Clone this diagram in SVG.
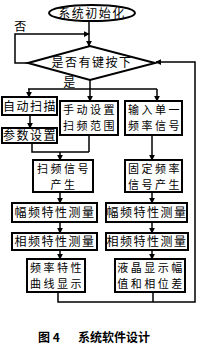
<svg xmlns="http://www.w3.org/2000/svg" width="202" height="347" viewBox="0 0 202 347">
<style>
.box{fill:#fff;stroke:#000;stroke-width:2}
.ln{fill:none;stroke:#000;stroke-width:1.5}
.t{font-family:"Noto Sans CJK SC","Noto Sans CJK JP",sans-serif;font-size:12px;fill:#000;text-anchor:middle;letter-spacing:1.5px}
.t2{font-family:"Noto Sans CJK SC","Noto Sans CJK JP",sans-serif;font-size:11px;fill:#000;text-anchor:middle;letter-spacing:2.5px}
.cap{font-family:"Noto Sans CJK SC",sans-serif;font-size:12px;font-weight:bold;fill:#000}
</style>
<defs>
<marker id="a" viewBox="0 0 8 8" refX="7" refY="4" markerWidth="6" markerHeight="6" markerUnits="userSpaceOnUse" orient="auto">
<path d="M0,0 L8,4 L0,8 z" fill="#000"/>
</marker>
</defs>
<rect width="202" height="347" fill="#fff"/>
<g id="connectors" class="ln">
<path d="M89,21 V46" marker-end="url(#a)"/>
<path d="M28,63 H15 V34 H89" marker-end="url(#a)"/>
<path d="M90,80 V89"/>
<path d="M28,89 H157"/>
<path d="M29,89 V97" marker-end="url(#a)"/>
<path d="M90,89 V101" marker-end="url(#a)"/>
<path d="M157,89 V101" marker-end="url(#a)"/>
<path d="M30,115 V128" marker-end="url(#a)"/>
<path d="M32,143 V152 H89"/>
<path d="M89,135 V152"/>
<path d="M60,152 V160" marker-end="url(#a)"/>
<path d="M152,135 V160" marker-end="url(#a)"/>
<path d="M60,192 V203" marker-end="url(#a)"/>
<path d="M152,192 V203" marker-end="url(#a)"/>
<path d="M60,222 V233" marker-end="url(#a)"/>
<path d="M152,222 V233" marker-end="url(#a)"/>
<path d="M60,250 V259" marker-end="url(#a)"/>
<path d="M152,250 V259" marker-end="url(#a)"/>
<path d="M58,292 V302 H195 V62 H156" marker-end="url(#a)"/>
<path d="M153,292 V302"/>
</g>
<g id="init">
<ellipse cx="92" cy="13" rx="43" ry="8" class="box"/>
<text x="92" y="17.5" class="t">系统初始化</text>
</g>
<g id="decision">
<path d="M28,63 L90,46 L155,63 L90,80 Z" class="box"/>
<text x="92" y="67" class="t">是否有键按下</text>
<text x="21" y="31" class="t">否</text>
<text x="70" y="87" class="t">是</text>
</g>
<g id="auto"><rect x="2" y="97" width="55" height="18" class="box"/><text x="30" y="110.5" class="t">自动扫描</text></g>
<g id="param"><rect x="2" y="128" width="55" height="15" class="box"/><text x="30" y="140" class="t">参数设置</text></g>
<g id="manual"><rect x="60" y="101" width="58" height="34" class="box"/><text x="90" y="114" class="t2">手动设置</text><text x="90" y="130" class="t2">扫频范围</text></g>
<g id="input"><rect x="125" y="101" width="57" height="34" class="box"/><text x="155" y="114" class="t2">输入单一</text><text x="155" y="130" class="t2">频率信号</text></g>
<g id="sweepgen"><rect x="33" y="160" width="60" height="32" class="box"/><text x="64" y="173" class="t2">扫频信号</text><text x="64" y="189" class="t2">产生</text></g>
<g id="fixgen"><rect x="125" y="160" width="57" height="32" class="box"/><text x="155" y="173" class="t2">固定频率</text><text x="155" y="189" class="t2">信号产生</text></g>
<g id="amp1"><rect x="12" y="203" width="85" height="19" class="box"/><text x="55" y="217" class="t">幅频特性测量</text></g>
<g id="amp2"><rect x="106" y="203" width="81" height="19" class="box"/><text x="147" y="217" class="t">幅频特性测量</text></g>
<g id="ph1"><rect x="12" y="233" width="85" height="17" class="box"/><text x="55" y="246" class="t">相频特性测量</text></g>
<g id="ph2"><rect x="106" y="233" width="82" height="17" class="box"/><text x="147" y="246" class="t">相频特性测量</text></g>
<g id="curve"><rect x="27" y="259" width="58" height="33" class="box"/><text x="57" y="272" class="t2">频率特性</text><text x="57" y="288" class="t2">曲线显示</text></g>
<g id="lcd"><rect x="115" y="259" width="70" height="33" class="box"/><text x="151" y="272" class="t2">液晶显示幅</text><text x="151" y="288" class="t2">值和相位差</text></g>
<text x="38" y="342" class="cap">图 4<tspan x="78">系统软件设计</tspan></text>
</svg>
